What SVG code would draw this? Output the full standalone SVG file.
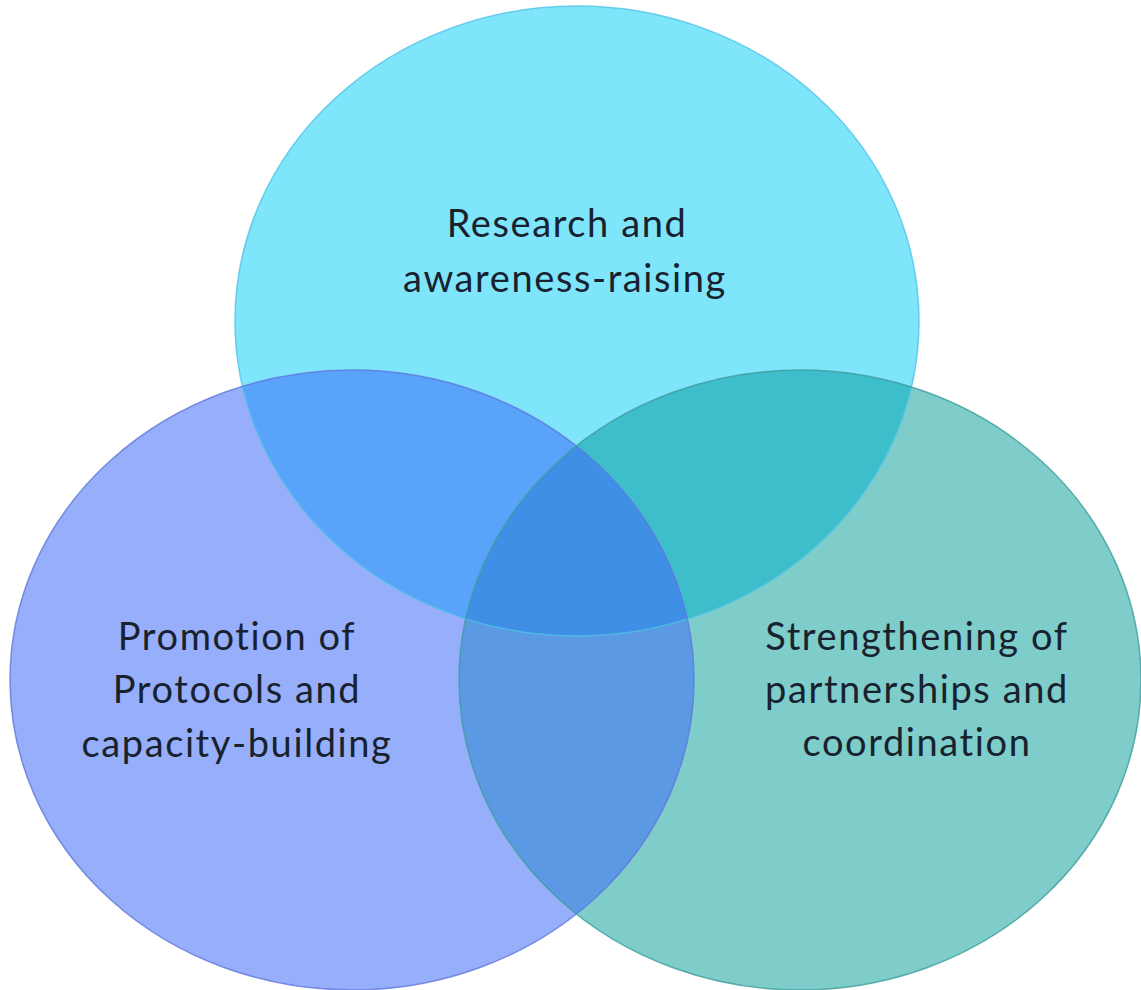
<svg xmlns="http://www.w3.org/2000/svg" width="1141" height="990" viewBox="0 0 1141 990">
  <style>
    .lbl { font-family: Lato, "Open Sans", "Liberation Sans", sans-serif; font-size: 38px; letter-spacing: 1.6px; fill: #18222f; text-anchor: middle; }
    .edge { fill: none; stroke-width: 1.5; }
  </style>
  <defs>
    <ellipse id="shapeTop" cx="577" cy="321" rx="342" ry="315"/>
    <ellipse id="shapeLeft" cx="352" cy="680" rx="342" ry="310"/>
    <ellipse id="shapeRight" cx="800" cy="680" rx="341" ry="310"/>
    <clipPath id="clipTop"><use href="#shapeTop"/></clipPath>
    <clipPath id="clipLeft"><use href="#shapeLeft"/></clipPath>
    <clipPath id="clipRight"><use href="#shapeRight"/></clipPath>
  </defs>
  <rect width="1141" height="990" fill="#ffffff"/>

  <!-- base fills -->
  <g id="fills">
    <use href="#shapeTop" fill="#7fe5fb"/>
    <use href="#shapeLeft" fill="#97affa"/>
    <use href="#shapeRight" fill="#7ecdca"/>
  </g>

  <!-- pairwise and triple overlaps -->
  <g id="overlaps">
    <g clip-path="url(#clipTop)"><use href="#shapeLeft" fill="#5aa3fb"/></g>
    <g clip-path="url(#clipTop)"><use href="#shapeRight" fill="#3ebecb"/></g>
    <g clip-path="url(#clipLeft)"><use href="#shapeRight" fill="#5c99e5"/></g>
    <g clip-path="url(#clipTop)"><g clip-path="url(#clipLeft)"><use href="#shapeRight" fill="#3e8fe5"/></g></g>
  </g>

  <!-- outlines -->
  <g id="outlines">
    <use href="#shapeTop" class="edge" stroke="#4fc3e6" stroke-opacity="0.8"/>
    <use href="#shapeLeft" class="edge" stroke="#5f78dc" stroke-opacity="0.8"/>
    <use href="#shapeRight" class="edge" stroke="#3f9e9e" stroke-opacity="0.8"/>
  </g>

  <g id="node-research">
    <text class="lbl" x="567" y="237">Research and</text>
    <text class="lbl" x="565" y="292">awareness-raising</text>
  </g>
  <g id="node-promotion">
    <text class="lbl" x="237" y="650">Promotion of</text>
    <text class="lbl" x="237" y="703">Protocols and</text>
    <text class="lbl" x="237" y="757">capacity-building</text>
  </g>
  <g id="node-partnerships">
    <text class="lbl" x="917" y="650">Strengthening of</text>
    <text class="lbl" x="917" y="703">partnerships and</text>
    <text class="lbl" x="917" y="756">coordination</text>
  </g>
</svg>
